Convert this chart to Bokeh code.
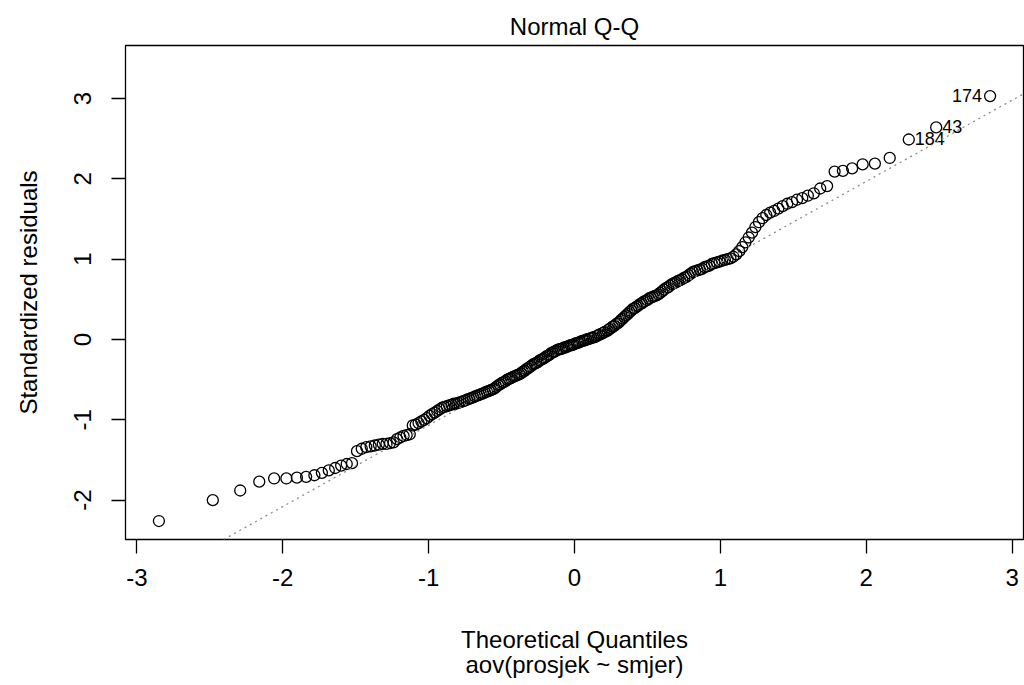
from statistics import NormalDist
from bokeh.plotting import figure
from bokeh.models import FixedTicker, Slope, Range1d, ColumnDataSource
from bokeh.core.properties import value
from bokeh.embed import file_html
from bokeh.resources import INLINE

# Sorted standardized residuals
residuals = [
    -2.26, -2.00, -1.88, -1.77, -1.73, -1.73, -1.72, -1.71, -1.69, -1.66,
    -1.63, -1.60, -1.57, -1.55, -1.54, -1.39, -1.36, -1.34, -1.33, -1.32,
    -1.31, -1.30, -1.30, -1.29, -1.28, -1.24, -1.22, -1.20, -1.19, -1.18,
    -1.07, -1.06, -1.04, -1.02, -1.00, -0.98, -0.95, -0.93, -0.91, -0.89,
    -0.87, -0.85, -0.84, -0.83, -0.82, -0.81, -0.80, -0.80, -0.79, -0.78,
    -0.77, -0.76, -0.75, -0.74, -0.73, -0.72, -0.71, -0.70, -0.69, -0.68,
    -0.67, -0.66, -0.65, -0.64, -0.63, -0.62, -0.61, -0.59, -0.57, -0.56,
    -0.54, -0.53, -0.52, -0.50, -0.49, -0.48, -0.47, -0.46, -0.45, -0.44,
    -0.43, -0.42, -0.40, -0.39, -0.37, -0.36, -0.34, -0.33, -0.31, -0.30,
    -0.29, -0.28, -0.26, -0.25, -0.24, -0.23, -0.21, -0.20, -0.19, -0.17,
    -0.16, -0.15, -0.14, -0.13, -0.12, -0.12, -0.11, -0.10, -0.10, -0.09,
    -0.08, -0.07, -0.07, -0.06, -0.05, -0.045, -0.04, -0.03, -0.02, -0.015,
    -0.01, 0.00, 0.005, 0.01, 0.02, 0.025, 0.03, 0.04, 0.05, 0.06,
    0.07, 0.08, 0.09, 0.10, 0.11, 0.13, 0.14, 0.16, 0.17, 0.19,
    0.20, 0.22, 0.24, 0.26, 0.28, 0.30, 0.32, 0.34, 0.36, 0.38,
    0.39, 0.41, 0.42, 0.44, 0.45, 0.47, 0.48, 0.49, 0.51, 0.52,
    0.53, 0.54, 0.55, 0.56, 0.58, 0.60, 0.62, 0.64, 0.65, 0.67,
    0.69, 0.70, 0.71, 0.73, 0.74, 0.75, 0.77, 0.78, 0.80, 0.82,
    0.84, 0.85, 0.86, 0.87, 0.88, 0.90, 0.91, 0.92, 0.94, 0.95,
    0.96, 0.97, 0.98, 0.99, 1.00, 1.01, 1.03, 1.06, 1.10, 1.15,
    1.21, 1.27, 1.33, 1.40, 1.46, 1.51, 1.55, 1.58, 1.60, 1.63,
    1.66, 1.69, 1.71, 1.74, 1.76, 1.79, 1.82, 1.88, 1.91, 2.09,
    2.10, 2.13, 2.18, 2.19, 2.26, 2.49, 2.64, 3.03,
]

# Labelled observations: (rank in sorted order, label, side)
label_ranks = [228, 227, 226]
label_texts = ["174", "43", "184"]
label_sides = ["left", "right", "right"]

# Reference line (qqline)
line_intercept = -0.056
line_slope = 1.012

x_ticks = [-3, -2, -1, 0, 1, 2, 3]
y_ticks = [-2, -1, 0, 1, 2, 3]

# Theoretical quantiles, as R's qqnorm (ppoints with a = 0.5)
n = len(residuals)
nd = NormalDist()
theoretical = [nd.inv_cdf((i - 0.5) / n) for i in range(1, n + 1)]

FONT = "Liberation Sans"

p = figure(width=1024, height=685,
           x_range=Range1d(-3.078, 3.078), y_range=Range1d(-2.49, 3.66),
           output_backend="svg", toolbar_location=None,
           min_border_left=125, min_border_right=1,
           min_border_top=45, min_border_bottom=146,
           title="Normal Q-Q")

p.title.text_font = FONT
p.title.text_font_size = "24px"
p.title.text_font_style = "normal"
p.title.align = "center"
p.title.vertical_align = "middle"
p.title.text_color = "black"
p.title.standoff = 10

p.grid.visible = False
p.outline_line_color = "black"
p.outline_line_width = 1.3

for ax in (p.xaxis[0], p.yaxis[0]):
    ax.axis_line_color = None
    ax.major_tick_in = 0
    ax.major_tick_out = 14
    ax.major_tick_line_width = 1.3
    ax.major_tick_line_color = "black"
    ax.minor_tick_line_color = None
    ax.major_label_text_font = FONT
    ax.major_label_text_font_size = "24px"
    ax.major_label_text_color = "black"
    ax.axis_label_text_font = FONT
    ax.axis_label_text_font_size = "24px"
    ax.axis_label_text_font_style = "normal"
    ax.axis_label_text_color = "black"

p.xaxis.ticker = FixedTicker(ticks=x_ticks)
p.yaxis.ticker = FixedTicker(ticks=y_ticks)
p.xaxis.major_label_overrides = {t: str(t) for t in x_ticks}
p.yaxis.major_label_overrides = {t: str(t) for t in y_ticks}
p.xaxis.major_label_standoff = 15
p.yaxis.major_label_standoff = 20
p.yaxis.major_label_orientation = "vertical"
p.xaxis.axis_label = "Theoretical Quantiles\naov(prosjek ~ smjer)"
p.xaxis.axis_label_text_line_height = 0.95
p.xaxis.axis_label_standoff = 37
p.yaxis.axis_label = "Standardized residuals"
p.yaxis.axis_label_standoff = 30

p.add_layout(Slope(gradient=line_slope, y_intercept=line_intercept,
                   line_color="#8c8c8c", line_width=1.3, line_dash="2 4"))

src = ColumnDataSource(data=dict(x=theoretical, y=residuals))
p.scatter("x", "y", source=src, marker="circle", size=11,
          fill_color=None, line_color="black", line_width=1.3)

for rank, txt, side in zip(label_ranks, label_texts, label_sides):
    xv = theoretical[rank - 1]
    yv = residuals[rank - 1]
    if side == "left":
        p.text(x=[xv], y=[yv], text=[txt], x_offset=-8, y_offset=-1,
               text_align="right", text_baseline="middle",
               text_font=value(FONT), text_font_size="18px", text_color="black")
    else:
        p.text(x=[xv], y=[yv], text=[txt], x_offset=6, y_offset=-1,
               text_align="left", text_baseline="middle",
               text_font=value(FONT), text_font_size="18px", text_color="black")

open("out.html", "w").write(file_html(p, INLINE))
